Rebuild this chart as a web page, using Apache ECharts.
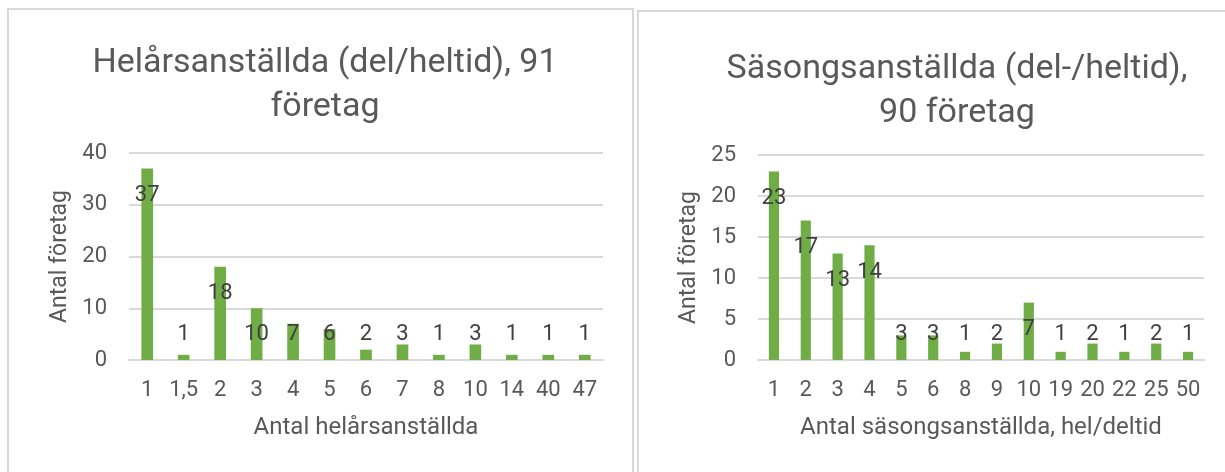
<!DOCTYPE html>
<html>
<head>
<meta charset="utf-8">
<script src="https://cdn.jsdelivr.net/npm/echarts@6/dist/echarts.min.js"></script>
<style>
    html, body { margin: 0; padding: 0; background: #fff; }
    #chart { width: 1225px; height: 472px; }
</style>
</head>
<body>
<div id="chart"></div>
<script>
    // Helårsanställda
    const helarCategories = ['1', '1,5', '2', '3', '4', '5', '6', '7', '8', '10', '14', '40', '47'];
    const helarValues = [37, 1, 18, 10, 7, 6, 2, 3, 1, 3, 1, 1, 1];

    // Säsongsanställda
    const sasongCategories = ['1', '2', '3', '4', '5', '6', '8', '9', '10', '19', '20', '22', '25', '50'];
    const sasongValues = [23, 17, 13, 14, 3, 3, 1, 2, 7, 1, 2, 1, 2, 1];

    const font = 'Roboto, "Liberation Sans", sans-serif';
    const grey = '#595959';
    const lineGrey = '#d9d9d9';
    const green = '#70ad47';

    // Excel-liknande etiketter: strax under stapelns topp, men aldrig längre ner än en fast nivå
    const labelLayout = (params) => {
        const r = params.rect;
        return {
            x: r.x + r.width / 2,
            y: Math.min(r.y + 27, r.y + r.height - 26),
            align: 'center',
            verticalAlign: 'middle'
        };
    };

    const xAxisBase = (idx, data, name) => ({
        type: 'category',
        gridIndex: idx,
        data: data,
        axisTick: { show: false },
        axisLine: { lineStyle: { color: lineGrey, width: 2 } },
        axisLabel: { color: grey, fontSize: 22, fontFamily: font, margin: 19, interval: 0 },
        name: name,
        nameLocation: 'middle',
        nameGap: 56,
        nameTextStyle: { color: grey, fontSize: 24, fontFamily: font }
    });

    const yAxisBase = (idx, max, interval) => ({
        type: 'value',
        gridIndex: idx,
        min: 0,
        max: max,
        interval: interval,
        axisLine: { show: false },
        axisTick: { show: false },
        splitLine: { lineStyle: { color: lineGrey, width: 2 } },
        axisLabel: { color: grey, fontSize: 22, fontFamily: font, margin: 22 },
        name: 'Antal företag',
        nameLocation: 'middle',
        nameGap: 57,
        nameTextStyle: { color: grey, fontSize: 23, fontFamily: font }
    });

    const seriesBase = (idx, values) => ({
        type: 'bar',
        xAxisIndex: idx,
        yAxisIndex: idx,
        data: values,
        barWidth: '32%',
        itemStyle: { color: green },
        label: { show: true, position: 'inside', color: '#404040', fontSize: 22, fontFamily: font },
        labelLayout: labelLayout
    });

    const myChart = echarts.init(document.getElementById('chart'));
    const option = {
        animation: false,
        backgroundColor: '#fff',
        graphic: [
            { type: 'rect', shape: { x: 8, y: 9, width: 625, height: 480 }, style: { fill: 'none', stroke: lineGrey, lineWidth: 2 } },
            { type: 'rect', shape: { x: 638, y: 11, width: 620, height: 480 }, style: { fill: 'none', stroke: lineGrey, lineWidth: 2 } }
        ],
        title: [{
            text: 'Helårsanställda (del/heltid), 91\nföretag',
            left: 320,
            top: 36,
            textAlign: 'center',
            textStyle: { color: grey, fontSize: 34, fontWeight: 'normal', fontFamily: font, lineHeight: 44 }
        }, {
            text: 'Säsongsanställda (del-/heltid),\n90 företag',
            left: 952,
            top: 42,
            textAlign: 'center',
            textStyle: { color: grey, fontSize: 34, fontWeight: 'normal', fontFamily: font, lineHeight: 44 }
        }],
        grid: [
            { left: 129, right: 622, top: 153, bottom: 112 },
            { left: 758, right: 21, top: 155, bottom: 112 }
        ],
        xAxis: [
            xAxisBase(0, helarCategories, 'Antal helårsanställda'),
            xAxisBase(1, sasongCategories, 'Antal säsongsanställda, hel/deltid')
        ],
        yAxis: [
            yAxisBase(0, 40, 10),
            yAxisBase(1, 25, 5)
        ],
        series: [
            seriesBase(0, helarValues),
            seriesBase(1, sasongValues)
        ]
    };
    myChart.setOption(option);
    window.onresize = () => {
        myChart.resize();
    };
</script>
</body>
</html>
